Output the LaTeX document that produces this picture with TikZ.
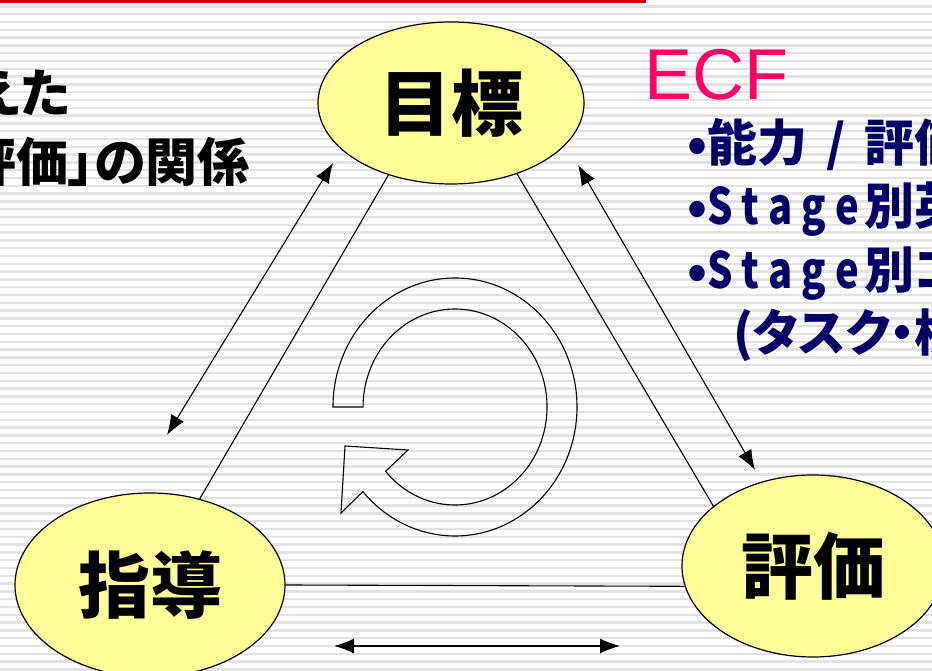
\documentclass[tikz,border=0pt]{standalone}
\usepackage{fontspec}
\newfontfamily\jpfont{Noto Sans CJK JP}
\newfontfamily\jppfont{Noto Sans CJK JP}[RawFeature=+palt]
\newfontfamily\stagefont{Noto Sans CJK JP}[FakeStretch=0.8]
\newfontfamily\ecffont{Liberation Sans}
\usetikzlibrary{shapes.geometric,arrows.meta}
\definecolor{bubble}{HTML}{FFFF99}
\definecolor{stripegray}{HTML}{E2E2E2}
\definecolor{ecfpink}{HTML}{FF0066}
\definecolor{ecfnavy}{HTML}{000066}
\definecolor{barred}{HTML}{CC0000}
\newcommand\stagetxt{{\stagefont S\kern9pt t\kern9pt a\kern9pt g\kern9pt e}\kern5pt}

\begin{document}
\begin{tikzpicture}[x=1pt,y=1pt,
	bubble/.style={ellipse,draw,line width=1.2pt,fill=bubble,inner sep=0pt,
		font=\jpfont\bfseries\fontsize{72}{72}\selectfont},
	link/.style={line width=1.1pt},
	twoway/.style={line width=1.1pt,{Latex[length=20pt,width=15pt]}-{Latex[length=20pt,width=15pt]}},
	stripe/.style={line width=2.4pt,color=stripegray},
	listline/.style={anchor=base west,inner sep=0pt,text=ecfnavy,
		font=\jppfont\bfseries\fontsize{50}{50}\selectfont},
	headline/.style={anchor=base east,inner sep=0pt,
		font=\jppfont\bfseries\fontsize{52}{52}\selectfont}]
			
			\useasboundingbox (0,0) rectangle (932,671);
			\fill[white] (0,0) rectangle (932,671);
			\foreach \k in {0,...,86}
				\draw[stripe] (0,{664.5-7.8*\k}) -- (932,{664.5-7.8*\k});
			
			\fill[barred] (0,668) rectangle (646,671);
			
			% the three ovals
			\node[bubble,minimum width=266,minimum height=162] (mokuhyo) at (451,568) {目標};
			\node[bubble,minimum width=270,minimum height=184] (shido) at (150,86) {指導};
			\node[bubble,minimum width=262,minimum height=182] (hyoka) at (813,105) {評価};
			
			\draw[link] (mokuhyo.229) -- (shido.60);
			\draw[link] (mokuhyo.313) -- (hyoka.149);
			\draw[link] (shido.east) -- (hyoka.189);
			
			% arrows beside the triangle
			\coordinate (upL) at (333,508);
			\coordinate (dnL) at (167,236);
			\coordinate (upR) at (578,506);
			\coordinate (dnR) at (755,201);
			\coordinate (btL) at (334,25);
			\coordinate (btR) at (620,25);
			\draw[twoway] (upL) -- (dnL);
			\draw[twoway] (upR) -- (dnR);
			\draw[twoway] (btL) -- (btR);
			
			% cycle arrow
			\draw[line width=1.1pt,line join=miter] (333,264)
				arc[start angle=180,end angle=-139,x radius=122,y radius=129]
				-- (341,158) -- (345,225) -- (408,221) -- (385.6,199.7)
				arc[start angle=-139,end angle=180,x radius=92,y radius=98] -- cycle;
			
			% texts
			\node[headline] (head1) at (71,558) {えた};
			\node[headline] (head2) at (250,489) {評価」の関係};
			
			\node[anchor=base west,inner sep=0pt,text=ecfpink,
				font=\ecffont\fontsize{72}{72}\selectfont] (ecf) at (644,571) {ECF};
			\node[listline] (item1) at (687,509.5) {•能力\hspace{19pt}/\hspace{19pt}評価};
			\node[listline] (item2) at (687,446) {•\stagetxt 別英};
			\node[listline] (item3) at (687,382.5) {•\stagetxt 別コ};
			\node[listline] (item4) at (733,319) {(タスク・横};
			
		\end{tikzpicture}
\end{document}
